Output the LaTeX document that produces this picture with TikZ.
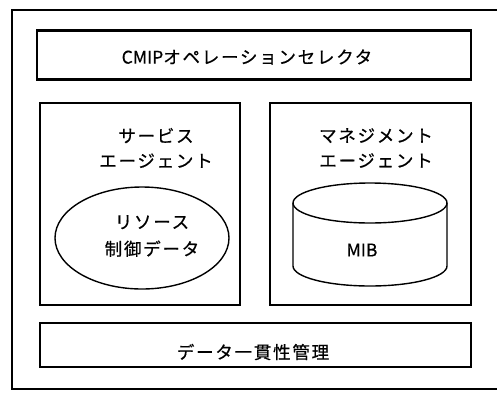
\documentclass[tikz,border=0pt]{standalone}
\usepackage{fontspec}
\setmainfont{Noto Sans CJK JP}[LetterSpace=10,FakeBold=0.6]
\newfontfamily\latn{Noto Sans CJK JP}[FakeBold=0.6]
\begin{document}
\begin{tikzpicture}[x=1pt,y=-1pt,
  thickbox/.style={draw,line width=2.4pt},
  lbl/.style={font=\fontsize{17.5}{21}\selectfont,inner sep=0pt,align=center},
  thinline/.style={line width=1.4pt}]
\useasboundingbox (0,0) rectangle (497,394);
\clip (0,0) rectangle (497,394);
% outer frame
\draw[line width=1.2pt] (12,10) rectangle (510,389);
% top box
\node[thickbox,minimum width=434pt,minimum height=49pt] (sel) at (254,55) {};
\node[lbl] (selt) at (247,57) {{\latn CMIP}オペレーションセレクタ};
% left box
\node[thickbox,minimum width=200pt,minimum height=202pt] (sa) at (140,204) {};
\node[lbl] (sat) at (156,148) {サービス\\[4pt]エージェント};
% ellipse
\draw[thinline] (142,238) ellipse [x radius=87, y radius=51];
\node[lbl] (res) at (152,236) {リソース\\[6pt]制御データ};
% right box
\node[thickbox,minimum width=201pt,minimum height=202pt] (ma) at (370.5,204) {};
\node[lbl] (mat) at (376,148) {マネジメント\\[4pt]エージェント};
% cylinder
\draw[thinline] (370,203) ellipse [x radius=77, y radius=20];
\draw[thinline] (293,203) -- (293,266) arc[start angle=180,end angle=360,x radius=77,y radius=-20] -- (447,203);
\node[lbl] (mib) at (362,250) {\latn MIB};
% bottom box
\node[thickbox,minimum width=431pt,minimum height=44pt] (dc) at (255.5,345) {};
\node[lbl] (dct) at (253,352) {データ一貫性管理};
\end{tikzpicture}
\end{document}
